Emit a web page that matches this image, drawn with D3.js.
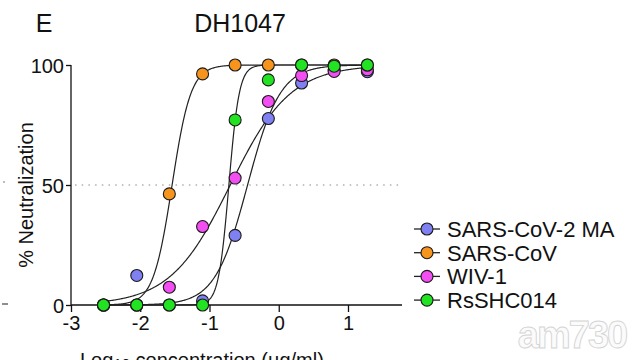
<!DOCTYPE html>
<html><head><meta charset="utf-8">
<script src="https://cdn.jsdelivr.net/npm/d3@7"></script>
<style>body{margin:0;background:#fff}svg{display:block}text{font-family:"Liberation Sans",Arial,sans-serif}</style>
</head><body><svg id="c" width="634" height="360"></svg>
<script>
const logConc = [-2.53, -2.05, -1.58, -1.10, -0.63, -0.15, 0.33, 0.80, 1.28];
const seriesNames = ["SARS-CoV-2 MA", "SARS-CoV", "WIV-1", "RsSHC014"];
const colors = ["#7f80f2", "#f7941e", "#f24ef2", "#22e322"];
const sarsCoV2MA = [0, 12.3, 0, 1.7, 29, 77.7, 92.5, 98, 97.2];
const sarsCoV   = [0, 0, 46.3, 96.3, 100, 100, 100, 100, 100];
const wiv1      = [0, 0, 7.4, 32.7, 52.9, 84.8, 95.6, 97.3, 98];
const rsSHC014  = [0, 0, 0, 0, 77.1, 93.8, 100, 99.5, 100];
const values = [sarsCoV2MA, sarsCoV, wiv1, rsSHC014];
// fitted curve parameters (log EC50, Hill slope)
const fitLogEC50 = [-0.45, -1.54, -0.70, -0.72];
const fitHill = [1.85, 3.2, 1.0, 5.8];
const xTicks = [-3, -2, -1, 0, 1];
const yTicks = [0, 50, 100];

const svg = d3.select("#c");
const x = d3.scaleLinear().domain([-3, 1.78]).range([71, 402]);
const y = d3.scaleLinear().domain([0, 100]).range([305, 65]);
const ink = "#111";

// titles
svg.append("text").attr("x", 44).attr("y", 32).attr("text-anchor", "middle").style("font-size", "25px").style("fill", ink).text("E");
svg.append("text").attr("x", 240).attr("y", 32).attr("text-anchor", "middle").style("font-size", "25px").style("fill", ink).text("DH1047");

// 50% dotted line
svg.append("line").attr("x1", x(-3) + 4).attr("x2", x(1.78)).attr("y1", y(50)).attr("y2", y(50))
  .attr("stroke", "#888").attr("stroke-width", 1.2).attr("stroke-dasharray", "1.5,5.2");

// axes
const yAxis = svg.append("g").attr("transform", `translate(${x(-3)},0)`)
  .call(d3.axisLeft(y).tickValues(yTicks).tickSize(5).tickPadding(2));
const xAxis = svg.append("g").attr("transform", `translate(0,${y(0)})`)
  .call(d3.axisBottom(x).tickValues(xTicks).tickSize(7).tickPadding(4).tickFormat(d => String(d)));
[yAxis, xAxis].forEach(g => {
  g.select(".domain").attr("stroke", ink).attr("stroke-width", 1.3);
  g.selectAll(".tick line").attr("stroke", ink).attr("stroke-width", 1.3);
  g.selectAll(".tick text").style("font-size", "20px").style("fill", ink);
});
xAxis.select(".domain").attr("d", `M${x(-3)},0H${x(1.78)}`);
yAxis.select(".domain").attr("d", `M0,${y(100)}V${y(0)}`);
yAxis.selectAll(".tick text").attr("dy", "0.36em");
xAxis.selectAll(".tick text").attr("dy", "0.72em");

// axis titles
svg.append("text").attr("transform", "translate(33,195) rotate(-90)").attr("text-anchor", "middle")
  .style("font-size", "20px").style("fill", ink).text("% Neutralization");
const xt = svg.append("text").attr("x", 80).attr("y", 367).style("font-size", "20px").style("fill", ink);
xt.append("tspan").text("Log");
xt.append("tspan").style("font-size", "15px").attr("dy", 2).text("10");
xt.append("tspan").attr("dy", -2).text(" concentration (µg/ml)");

// fitted curves
const line = d3.line().x(d => x(d[0])).y(d => y(d[1]));
seriesNames.forEach((name, i) => {
  const pts = d3.range(logConc[0], logConc[logConc.length - 1] + 0.001, 0.01)
    .map(c => [c, 100 / (1 + Math.pow(10, (fitLogEC50[i] - c) * fitHill[i]))]);
  svg.append("path").attr("d", line(pts)).attr("fill", "none").attr("stroke", "#222").attr("stroke-width", 1.2);
});

// points (draw order: blue, pink, orange, green on top)
const order = [0, 2, 1, 3];
order.forEach(i => {
  svg.append("g").selectAll("circle").data(values[i]).join("circle")
    .attr("cx", (d, k) => x(logConc[k])).attr("cy", d => y(d)).attr("r", 6)
    .attr("fill", colors[i]).attr("stroke", "#1a1a1a").attr("stroke-width", 1.1);
});

// legend
const leg = svg.append("g");
seriesNames.forEach((name, i) => {
  const ly = 229 + i * 23.7;
  leg.append("line").attr("x1", 414).attr("x2", 440).attr("y1", ly).attr("y2", ly).attr("stroke", "#222").attr("stroke-width", 1.3);
  leg.append("circle").attr("cx", 427).attr("cy", ly).attr("r", 6).attr("fill", colors[i]).attr("stroke", "#1a1a1a").attr("stroke-width", 1.1);
  leg.append("text").attr("x", 447).attr("y", ly).attr("dy", "0.36em").style("font-size", "22px").style("fill", ink).text(name);
});

// stray marks from neighbouring panel
svg.append("line").attr("x1", 2).attr("x2", 8).attr("y1", 304).attr("y2", 304).attr("stroke", "#444").attr("stroke-width", 1.2);
svg.append("circle").attr("cx", 4).attr("cy", 182).attr("r", 0.8).attr("fill", "#666");

// watermark
svg.append("text").attr("x", 572).attr("y", 348).attr("text-anchor", "middle")
  .style("font-size", "38px").style("font-weight", "bold").style("letter-spacing", "-2px")
  .style("fill", "#fbfbfb").style("stroke", "#d4d4d4").style("stroke-width", "0.9px").text("am730");
</script></body></html>
